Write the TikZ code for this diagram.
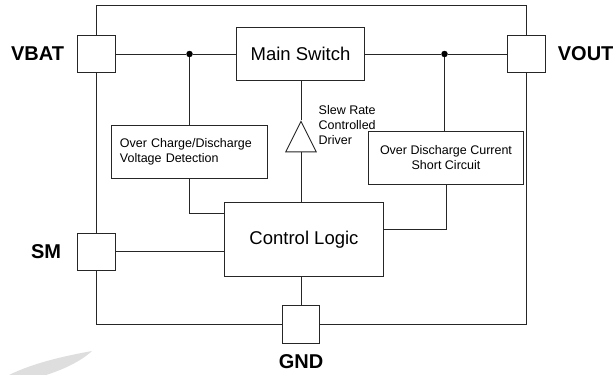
\documentclass[tikz,border=0pt]{standalone}
\usepackage{fontspec}
\setmainfont{Liberation Sans}
\usepackage{tikz}
\usetikzlibrary{positioning,calc,shapes.geometric}

\begin{document}
\begin{tikzpicture}[
				x=1pt, y=-1pt,
				every node/.style={inner sep=0pt, align=center},
				blockbox/.style={
					rectangle, draw=black!85, fill=white, line width=0.9pt
				},
				pinbox/.style={
					blockbox, minimum size=37.5pt
				},
				pinlabel/.style={font=\fontsize{20}{24}\selectfont\bfseries},
				bigtext/.style={font=\fontsize{18.5}{22}\selectfont},
				smalltext/.style={font=\fontsize{12.5}{15}\selectfont},
				wire/.style={draw=black!85, line width=0.9pt},
				junction/.style={circle, fill=black, minimum size=6.5pt}
				]
				\useasboundingbox (0,0) rectangle (614,375);
				
				% Vệt mờ góc dưới
				\fill[black!13] (92,351) .. controls (70,355) and (35,362) .. (9,375) -- (46,375) .. controls (62,370) and (80,362) .. (92,351) -- cycle;
				
				% Khung ngoài
				\node[blockbox, minimum width=430pt, minimum height=319pt] (chip) at (311.5,164.5) {};
				
				% Chân
				\node[pinbox] (vbat) at (96.5,54) {};
				\node[pinbox] (vout) at (526.5,54) {};
				\node[pinbox] (sm) at (96.5,251.7) {};
				\node[pinbox] (gnd) at (301,324.3) {};
				\node[pinlabel, left=13pt of vbat] (vbatlabel) {VBAT};
				\node[pinlabel, right=12pt of vout] (voutlabel) {VOUT};
				\node[pinlabel, left=16pt of sm] (smlabel) {SM};
				\node[pinlabel, below=11pt of gnd] (gndlabel) {GND};
				
				% Khối
				\node[blockbox, bigtext, minimum width=127.6pt, minimum height=53pt] (main) at (300.5,54) {Main Switch};
				\node[blockbox, bigtext, minimum width=159.4pt, minimum height=74.4pt] (logic) at (304,239.5) {Control Logic};
				\node[blockbox, smalltext, minimum width=155.3pt, minimum height=52.6pt, text width=139pt, align=left] (charge) at (189.4,152) {Over Charge/Discharge\\Voltage Detection};
				\node[blockbox, smalltext, minimum width=155.4pt, minimum height=53pt] (current) at (446,157.8) {Over Discharge Current\\Short Circuit};
				\node[blockbox, isosceles triangle, isosceles triangle stretches, shape border rotate=90, minimum width=30.4pt, minimum height=30.4pt, anchor=lower side] (driver) at (301,152.3) {};
				\node[smalltext, align=left, anchor=west] (driverlabel) at (318.5,125) {Slew Rate\\Controlled\\Driver};
				
				% Điểm nối
				\node[junction] (dotleft) at (189.5,54) {};
				\node[junction] (dotright) at (444.5,54) {};
				
				% Dây nối
				\draw[wire] (vbat) -- (dotleft) -- (main);
				\draw[wire] (main) -- (dotright) -- (vout);
				\draw[wire] (dotleft) -- (charge.north -| dotleft);
				\draw[wire] (dotright) -- (current.north -| dotright);
				\draw[wire] (charge.south -| dotleft) |- (logic.west |- 0,213.3);
				\draw[wire] (current.south) |- (logic.east |- 0,229);
				\draw[wire] (main.south -| driver.apex) -- (driver.apex);
				\draw[wire] (driver.lower side) -- (logic.north -| driver.lower side);
				\draw[wire] (sm) -- (logic.west |- sm);
				\draw[wire] (logic.south -| gnd) -- (gnd);
			\end{tikzpicture}
\end{document}
